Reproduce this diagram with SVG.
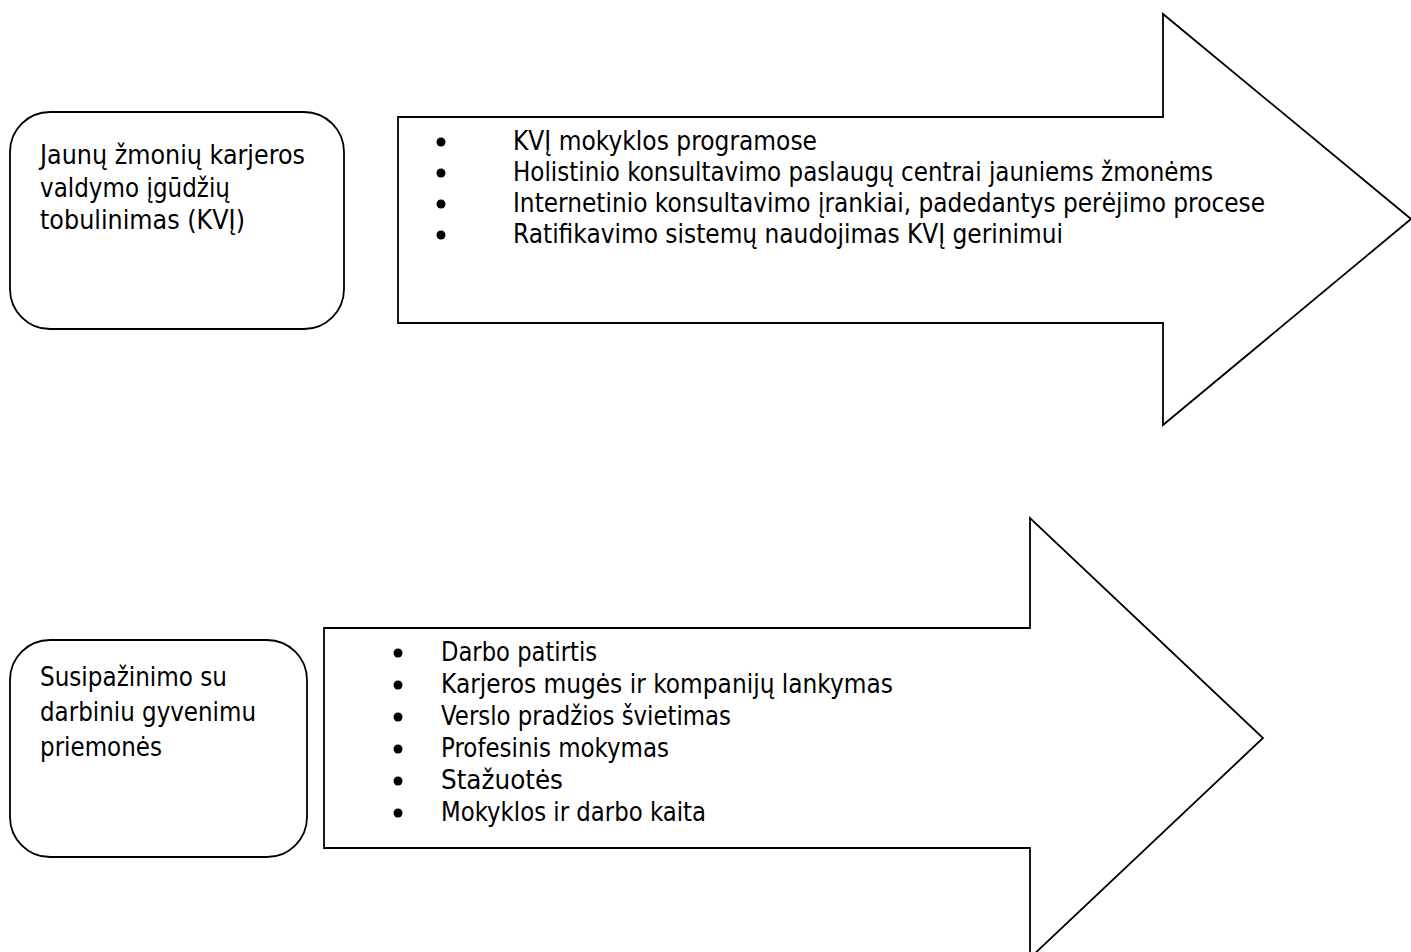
<svg xmlns="http://www.w3.org/2000/svg" width="1411" height="952" viewBox="0 0 1411 952">
<style>
.shape{fill:#fff;stroke:#000;stroke-width:1.8;stroke-linejoin:miter}
.t{font-family:"DejaVu Sans","Liberation Sans",sans-serif;font-size:26px;fill:#000}
.dot{fill:#000}
</style>
<rect width="1411" height="952" fill="#fff"/>
<g id="connectors"></g>
<g id="arrow1">
<polygon class="shape" points="398,117 1163,117 1163,14 1411,219 1163,425 1163,323 398,323"/>
<circle class="dot" cx="441" cy="142" r="4.5"/>
<circle class="dot" cx="441" cy="173" r="4.5"/>
<circle class="dot" cx="441" cy="204" r="4.5"/>
<circle class="dot" cx="441" cy="235" r="4.5"/>
<text class="t" x="513" y="150" textLength="304" lengthAdjust="spacingAndGlyphs">KVĮ mokyklos programose</text>
<text class="t" x="513" y="181" textLength="700" lengthAdjust="spacingAndGlyphs">Holistinio konsultavimo paslaugų centrai jauniems žmonėms</text>
<text class="t" x="513" y="212" textLength="752" lengthAdjust="spacingAndGlyphs">Internetinio konsultavimo įrankiai, padedantys perėjimo procese</text>
<text class="t" x="513" y="243" textLength="550" lengthAdjust="spacingAndGlyphs">Ratifikavimo sistemų naudojimas KVĮ gerinimui</text>
</g>
<g id="box1">
<rect class="shape" x="10" y="112" width="334" height="217" rx="40" ry="40"/>
<text class="t" x="40" y="164" textLength="265" lengthAdjust="spacingAndGlyphs">Jaunų žmonių karjeros</text>
<text class="t" x="40" y="197" textLength="190" lengthAdjust="spacingAndGlyphs">valdymo įgūdžių</text>
<text class="t" x="40" y="229" textLength="205" lengthAdjust="spacingAndGlyphs">tobulinimas (KVĮ)</text>
</g>
<g id="arrow2">
<polygon class="shape" points="324,628 1030,628 1030,518 1263,738 1030,958 1030,848 324,848"/>
<circle class="dot" cx="398" cy="653" r="4.5"/>
<circle class="dot" cx="398" cy="685" r="4.5"/>
<circle class="dot" cx="398" cy="717" r="4.5"/>
<circle class="dot" cx="398" cy="749" r="4.5"/>
<circle class="dot" cx="398" cy="781" r="4.5"/>
<circle class="dot" cx="398" cy="813" r="4.5"/>
<text class="t" x="441" y="661" textLength="156" lengthAdjust="spacingAndGlyphs">Darbo patirtis</text>
<text class="t" x="441" y="693" textLength="452" lengthAdjust="spacingAndGlyphs">Karjeros mugės ir kompanijų lankymas</text>
<text class="t" x="441" y="725" textLength="290" lengthAdjust="spacingAndGlyphs">Verslo pradžios švietimas</text>
<text class="t" x="441" y="757" textLength="228" lengthAdjust="spacingAndGlyphs">Profesinis mokymas</text>
<text class="t" x="441" y="789" textLength="122" lengthAdjust="spacingAndGlyphs">Stažuotės</text>
<text class="t" x="441" y="821" textLength="265" lengthAdjust="spacingAndGlyphs">Mokyklos ir darbo kaita</text>
</g>
<g id="box2">
<rect class="shape" x="10" y="640" width="297" height="217" rx="40" ry="40"/>
<text class="t" x="40" y="686" textLength="187" lengthAdjust="spacingAndGlyphs">Susipažinimo su</text>
<text class="t" x="40" y="721" textLength="216" lengthAdjust="spacingAndGlyphs">darbiniu gyvenimu</text>
<text class="t" x="40" y="756" textLength="122" lengthAdjust="spacingAndGlyphs">priemonės</text>
</g>
</svg>
